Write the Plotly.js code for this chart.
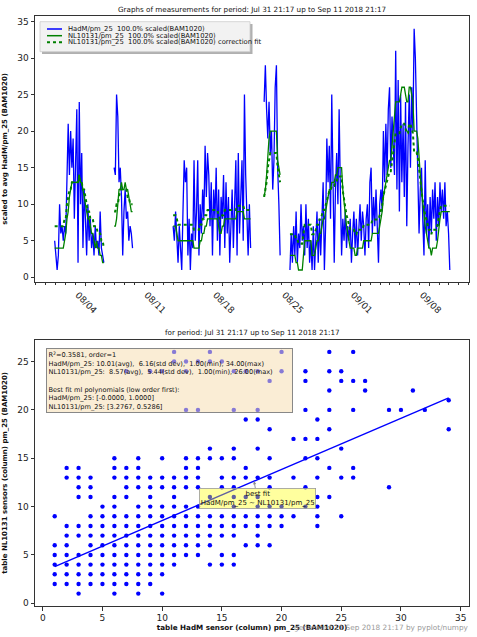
<!DOCTYPE html>
<html><head><meta charset="utf-8">
<script src="https://cdn.plot.ly/plotly-3.0.1.min.js"></script>
<style>html,body{margin:0;padding:0;background:#fff}</style>
</head><body><div id="chart" style="width:477px;height:637px"></div>
<script>
// ---------- time series (3-hour samples) ----------
const segmentStarts = ['2018-07-31T22:00','2018-08-06T23:00','2018-08-12T23:00','2018-08-22T05:00','2018-08-24T20:00'];
const sampleHours = 3;

const hadmSeg1 = [5,3,1,3,10,6,7,5,7,6,16,21,14,20,15,19,8,14,23,2,24,10,17,4,12,8,3,10,5,8,4,6,3,7,4,5,3,9,4,3,2];
const nlSeg1   = [4,4,4,4,4,4,4,4,5,6,8,9,11,12,13,13,13,13,13,13,14,13,13,12,11,10,9,8,8,7,6,6,5,4,5,4,4,3,3,2,2];
const fitSeg1  = [7,7,7,7,7,7,7,7,8,8,10,11,12,12,13,13,13,13,13,13,14,13,13,12,12,11,10,9,9,8,8,8,7,7,7,6,6,6,5,5,4];

const hadmSeg2 = [15,14,25,22,13,15,11,3,9,12,8,9,5,7,6,4];
const nlSeg2   = [7,7,8,10,12,12,13,12,12,13,12,12,11,10,9,9];
const fitSeg2  = [9,9,10,10,11,12,12,12,12,12,12,11,11,10,10,10];

const hadmSeg3 = [7,5,9,6,2,7,4,1,9,16,13,15,3,8,1,6,4,16,5,9,16,3,10,6,12,8,18,11,17,14,
                  7,13,3,12,8,15,5,12,3,11,8,14,4,13,6,11,2,9,12,4,10,16,3,17,6,10,16,5,25,14,8,3,10,4];
const nlSeg3   = [7,7,7,6,5,5,5,5,5,5,5,5,5,5,5,5,5,4,4,4,4,4,5,5,6,6,7,7,8,8,8,8,8,8,8,8,8,7,6,6,7,7,
                  8,8,8,8,8,8,8,8,8,8,9,9,9,9,9,9,8,8,8,8,8,8];
const fitSeg3  = [8.5,8.5,8.5,8,7.2,7.2,7.2,7.2,7.2,7.2,7.2,7.2,7.2,7.2,7.2,7.2,7.2,6.5,6.5,6.5,6.5,6.5,7.2,7.2,8,8,8.5,8.5,
                  9.2,9.2,9.2,9.2,9.2,9.2,9.2,9.2,9.2,8.5,8,8,8.5,8.5,9.2,9.2,9.2,9.2,9.2,9.2,9.2,9.2,9.2,9.2,
                  9.8,9.8,9.8,9.8,9.8,9.8,9.2,9.2,9.2,9.2,9.2,9.2];

const hadmSeg4 = [24,29,23,19,24,17,20,12,16,26,29,15,10,3];
const nlSeg4   = [11,12,14,17,19,20,20,20,20,20,20,16,15,14];
const fitSeg4  = [11,12,13,15,16,17,17,17,17,17,17,15,14,13];

const hadmSeg5 = [1,6,2,7,3,9,2,6,4,10, 5,7,3,10,4,8,2,5,1,7, 1,5,9,2,8,3,9,13,1,7,
                  19,13,18,8,25,15,2,12,17,10, 23,12,3,8,5,9,4,7,5,8, 2,6,9,4,8,3,7,10,5,9,
                  7,3,8,10,4,13,15,6,11,7, 12,8,2,10,12,9,20,13,21,14, 23,26,15,22,18,14,31,12,27,9,
                  25,13,21,11,24,7,18,25,15,26, 20,34,30,23,14,6,12,15,8,3, 16,6,10,4,11,6,12,8,13,5,
                  11,7,13,9,12,8,13,7,9,6, 1];
const nlSeg5   = [3,3,3,3,3,2,2,1,1,1,1, 3, 5,5,5,5,5,5, 3,3,3,4,5, 5,6,6, 7,8,8, 9,10,11, 12,12,13,13,
                  13,14,14,15,15, 15,15, 12,10,8,7,6,5, 4,4,4,4,3,3,4,4, 4,4,4,5, 5,5,5,5,5,5,6,6,6,6,
                  6,6,7, 8,9,11, 12,13,14, 15,16,16, 18,20,22, 24,24,24, 24,25,26, 26,26,25,24, 24,26,26,
                  25,24,20, 20,20,19, 16,14,12, 10,8,7, 6,5,4, 4,3,4, 4,4,4,5, 7,8, 9,9,9,9,9,9,9,9];
const fitSeg5  = [5.9,5.9,5.9,5.9,5.9,5.2,5.2,4.6,4.6,4.6,4.6, 5.9, 7.2,7.2,7.2,7.2,7.2,7.2, 5.9,5.9,5.9,6.5,7.2,
                  7.2,7.9,7.9, 8.5,9.2,9.2, 9.8,10.5,11.2, 11.8,11.8,12.5,12.5, 12.5,13.1,13.1,13.8,13.8, 13.8,13.8,
                  11.8,10.5,9.2,8.5,7.9,7.2, 6.5,6.5,6.5,6.5,5.9,5.9,6.5,6.5, 6.5,6.5,6.5,7.2,
                  7.2,7.2,7.2,7.2,7.2,7.2,7.9,7.9,7.9,7.9, 7.9,7.9,8.5, 9.2,9.8,11.2, 11.8,12.5,13.1, 13.8,14.5,14.5,
                  15.8,17.1,18.4, 19.7,19.7,19.7, 19.7,20.4,21, 21,21,20.4,19.7, 19.7,21,21, 20.4,19.7,17.1,
                  17.1,17.1,16.4, 14.5,13.1,11.8, 10.5,9.2,8.5, 7.9,7.2,6.5, 6.5,5.9,6.5, 6.5,6.5,6.5,7.2,
                  8.5,9.2, 9.8,9.8,9.8,9.8,9.8,9.8,9.8,9.8];

// ---------- scatter (HadM on x, NL10131 on y) ----------
const nlLevels = [1,2,3,4,5,6,7,8,9,10,11,12,13,14,15,16,17,18,19,20,21,22,23,24,25,26];
const hadmAtLevel = [
  [3,6,8,10],
  [1,2,3,4,5,6,7,8,9],
  [1,2,3,4,5,6,7,8,9,10],
  [1,2,3,4,5,6,7,8,9,10,11,14,15,16],
  [1,2,3,4,5,6,7,8,9,10,11,12,13,15,16],
  [1,2,4,5,6,7,8,9,10,11,12,13,14,17,18,19],
  [2,3,4,5,6,7,8,9,10,11,12,13,14,15,16,18],
  [2,3,4,5,6,7,8,9,10,11,12,13,14,15,16,17,18,19,20,23],
  [1,4,5,6,7,8,9,10,11,12,13,14,15,16,17,18,19,20,21,23,25],
  [5,6,8,9,10,11,12,13,16,18,19,20,22,23],
  [3,4,6,7,9,11,14,16,17,18,23,24],
  [3,4,7,8,9,10,11,12,13,15,16,19,22,29],
  [2,3,4,6,7,8,9,10,11,12,13,15,16,17,18,19,21,23,25,26],
  [2,3,6,7,8,12,13,17,24,26],
  [6,8,10,12,13,14,15,16,19,22,23],
  [14,16,18,25],
  [21,22,23],
  [19,24,34],
  [17,18,23],
  [12,13,16,18,22,24,26,29,30,32],
  [34],
  [24,27,31],
  [19,22,25,26,27],
  [7,9,10,12,16,17,18,20,22,24,25],
  [11,12,13,14,15],
  [11,14,20,24,26]
];
const fitLineX = [1, 34];
const fitLineY = [3.80, 21.25];
const bestFitPoint = [17.7, 12.63];

// ---------- texts ----------
const seriesNames = ['HadM/pm_25  100.0% scaled(BAM1020)', 'NL10131/pm_25  100.0% scaled(BAM1020)', 'NL10131/pm_25  100.0% scaled(BAM1020) correction fit'];
const topTitle = 'Graphs of measurements for period: Jul 31 21:17 up to Sep 11 2018 21:17';
const bottomTitle = 'for period: Jul 31 21:17 up to Sep 11 2018 21:17';
const statsLines = ['R<sup>2</sup>=0.3581, order=1',
  'HadM/pm_25: 10.01(avg),  6.16(std dev),  1.00(min), 34.00(max)',
  'NL10131/pm_25:  8.57(avg),  5.44(std dev),  1.00(min), 26.00(max)',
  '\u00a0',
  'Best fit ml polynomials (low order first):',
  'HadM/pm_25: [-0.0000, 1.0000]',
  'NL10131/pm_25: [3.2767, 0.5286]'];
const footer = 'generated 11 Sep 2018 21:17 by pyplot/numpy';

// ---------- build ----------
const segH = [hadmSeg1, hadmSeg2, hadmSeg3, hadmSeg4, hadmSeg5];
const segN = [nlSeg1, nlSeg2, nlSeg3, nlSeg4, nlSeg5];
const segF = [fitSeg1, fitSeg2, fitSeg3, fitSeg4, fitSeg5];
function fmt(t){ return new Date(t).toISOString().slice(0,16).replace('T',' '); }
const tx = [], tyH = [], tyN = [], tyF = [];
segmentStarts.forEach((s, k) => {
  const t0 = Date.parse(s + ':00Z');
  const n = segH[k].length;
  for (let i = 0; i < n; i++) {
    tx.push(fmt(t0 + i * sampleHours * 3600e3));
    tyH.push(segH[k][i]); tyN.push(segN[k][i]); tyF.push(segF[k][i]);
  }
  tx.push(fmt(t0 + n * sampleHours * 3600e3)); tyH.push(null); tyN.push(null); tyF.push(null);
});
const sx = [], sy = [];
nlLevels.forEach((lv, k) => hadmAtLevel[k].forEach(h => { sx.push(h); sy.push(lv); }));

const FONT = 'DejaVu Sans, Liberation Sans, sans-serif';
const W = 477, H = 637, ML = 35, MR = 8, MT = 16, MB = 31;
const PW = W - ML - MR, PH = H - MT - MB;
const px2x = p => (p - ML) / PW;
const py2y = p => (H - MB - p) / PH;

const traces = [
  {x: tx, y: tyH, type: 'scatter', mode: 'lines', name: seriesNames[0], line: {color: '#0000ff', width: 1.3}, xaxis: 'x', yaxis: 'y', showlegend: false},
  {x: tx, y: tyN, type: 'scatter', mode: 'lines', name: seriesNames[1], line: {color: '#008000', width: 1.3}, xaxis: 'x', yaxis: 'y', showlegend: false},
  {x: tx, y: tyF, type: 'scatter', mode: 'lines', name: seriesNames[2], line: {color: '#008000', width: 2, dash: 'dot'}, xaxis: 'x', yaxis: 'y', showlegend: false},
  {x: sx, y: sy, type: 'scatter', mode: 'markers', name: 'HadM/pm_25 vs NL10131/pm_25', marker: {color: '#0000ff', size: 4.4}, xaxis: 'x2', yaxis: 'y2', showlegend: false},
  {x: fitLineX, y: fitLineY, type: 'scatter', mode: 'lines', name: 'best fit', line: {color: '#0000ff', width: 1.4}, xaxis: 'x2', yaxis: 'y2', showlegend: false}
];

const axisCommon = {showgrid: false, zeroline: false, showline: true, mirror: true, linecolor: '#333', linewidth: 1,
  ticks: 'outside', ticklen: 3.5, tickcolor: '#333', tickfont: {family: FONT, size: 9, color: '#222'}};

const legendRows = [29, 35.7, 42.3];
const legendColors = ['#0000ff', '#008000', '#008000'];
const shapes = [
  {type: 'rect', xref: 'paper', yref: 'paper', x0: px2x(42), x1: px2x(252.5), y0: py2y(54), y1: py2y(24), fillcolor: '#b0b0b0', line: {width: 0}, layer: 'above'},
  {type: 'rect', xref: 'paper', yref: 'paper', x0: px2x(40), x1: px2x(250), y0: py2y(51.7), y1: py2y(21.7), fillcolor: '#f2f2f2', line: {color: '#cccccc', width: 0.8}, layer: 'above'}
];
legendRows.forEach((r, i) => shapes.push({type: 'line', xref: 'paper', yref: 'paper', x0: px2x(47), x1: px2x(62), y0: py2y(r), y1: py2y(r),
  line: {color: legendColors[i], width: i === 2 ? 2 : 1.5, dash: i === 2 ? 'dot' : 'solid'}, layer: 'above'}));

const annotations = [];
legendRows.forEach((r, i) => annotations.push({xref: 'paper', yref: 'paper', x: px2x(66), y: py2y(r), xanchor: 'left', yanchor: 'middle',
  text: seriesNames[i].replace(/  /g, '\u00a0 '), showarrow: false, font: {family: FONT, size: 6.8, color: '#111'}}));
annotations.push({xref: 'paper', yref: 'paper', x: px2x(252), y: py2y(332.7), xanchor: 'center', yanchor: 'middle', text: bottomTitle,
  showarrow: false, font: {family: FONT, size: 7.2, color: '#111'}});
annotations.push({xref: 'paper', yref: 'paper', x: px2x(45.7), y: py2y(348.3), xanchor: 'left', yanchor: 'top', align: 'left', valign: 'top',
  width: 242, text: statsLines.map(s => s.replace(/  /g, '\u00a0 ')).join('<br>'), showarrow: false,
  font: {family: FONT, size: 6.6, color: '#111'}, bgcolor: 'rgba(245,222,179,0.55)', bordercolor: '#888', borderwidth: 1, borderpad: 1.5});
annotations.push({xref: 'x2', yref: 'y2', x: bestFitPoint[0], y: bestFitPoint[1], ax: 3, ay: 17, text: 'best fit<br>HadM/pm_25 ~ NL10131/pm_25',
  showarrow: true, arrowhead: 2, arrowsize: 0.7, arrowwidth: 0.9, arrowcolor: '#888', align: 'center',
  font: {family: FONT, size: 7, color: '#111'}, bgcolor: 'rgba(255,255,0,0.38)', bordercolor: '#999', borderwidth: 0.8, borderpad: 1});
annotations.push({xref: 'paper', yref: 'paper', x: px2x(471), y: py2y(627.5), xanchor: 'right', yanchor: 'middle', text: footer,
  showarrow: false, font: {family: FONT, size: 7.3, color: '#9a9a9a'}});

const layout = {
  width: W, height: H, paper_bgcolor: '#fff', plot_bgcolor: '#fff',
  margin: {l: ML, r: MR, t: MT, b: MB, autoexpand: false},
  font: {family: FONT},
  title: {text: topTitle, font: {family: FONT, size: 7.2, color: '#111'}, xref: 'paper', x: 0.5, xanchor: 'center', yref: 'container', y: 1 - 9.3 / H, yanchor: 'middle'},
  xaxis: Object.assign({}, axisCommon, {domain: [0, 1], anchor: 'y', type: 'date', range: ['2018-07-29 22:00', '2018-09-12 00:50'],
    tick0: '2018-08-04', dtick: 7 * 86400000, tickformat: '%m/%d', tickangle: 45, ticklabelshift: -7,
    minor: {dtick: 86400000, ticks: 'outside', ticklen: 2, tickcolor: '#333', showgrid: false}}),
  yaxis: Object.assign({}, axisCommon, {domain: [py2y(281.7), 1], anchor: 'x', range: [-0.6, 35.75], tick0: 0, dtick: 5,
    title: {text: 'scaled to avg HadM/pm_25 (BAM1020)', font: {family: FONT, size: 7, color: '#111', weight: 'bold'}, standoff: 8}}),
  xaxis2: Object.assign({}, axisCommon, {domain: [0, 1], anchor: 'y2', range: [-0.65, 35.7], tick0: 0, dtick: 5,
    title: {text: 'table HadM sensor (column) pm_25 (BAM1020)', font: {family: FONT, size: 7.2, color: '#111', weight: 'bold'}, standoff: 2}}),
  yaxis2: Object.assign({}, axisCommon, {domain: [0, py2y(339.8)], anchor: 'x2', range: [-0.28, 27.25], tick0: 0, dtick: 5,
    title: {text: 'table NL10131 sensors (column) pm_25 (BAM1020)', font: {family: FONT, size: 7, color: '#111', weight: 'bold'}, standoff: 8}}),
  shapes: shapes,
  annotations: annotations
};

Plotly.newPlot('chart', traces, layout, {displayModeBar: false, staticPlot: true});
</script></body></html>
